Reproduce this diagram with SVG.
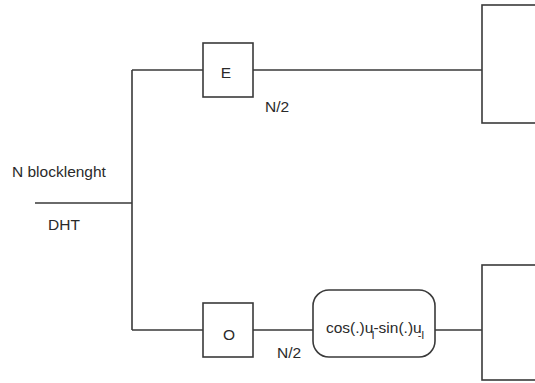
<svg xmlns="http://www.w3.org/2000/svg" width="535" height="383" viewBox="0 0 535 383">
<style>
.ln{fill:none;stroke:#3a3a3a;stroke-width:1.6}
.bx{fill:#fff;stroke:#3a3a3a;stroke-width:1.6}
.t{font-family:"Liberation Sans",Arial,sans-serif;font-size:15.5px;fill:#2a2a2a}
.s{font-size:11px}
</style>
<rect width="535" height="383" fill="#fff"/>
<g id="connectors">
<path class="ln" d="M35 203H132M132 70V330M132 70H203M132 330H203M253 70H482M253 330H313M435 330H482"/>
</g>
<g id="input">
<text class="t" x="12" y="177">N blocklenght</text>
<text class="t" x="48" y="230">DHT</text>
</g>
<g id="E">
<rect class="bx" x="203" y="43" width="50" height="54"/>
<text class="t" x="226" y="78" text-anchor="middle">E</text>
<text class="t" x="265" y="112">N/2</text>
</g>
<g id="O">
<rect class="bx" x="203" y="303" width="50" height="54"/>
<text class="t" x="229" y="340" text-anchor="middle">O</text>
<text class="t" x="277" y="358">N/2</text>
</g>
<g id="rot">
<rect class="bx" x="313" y="290" width="122" height="67" rx="16"/>
<text class="t" x="326" y="333">cos(.)u<tspan class="s" dx="-2" dy="6">I</tspan><tspan dx="-1" dy="-6">-sin(.)u</tspan><tspan class="s" dx="-4" dy="6">-I</tspan></text>
</g>
<g id="outTop">
<rect class="bx" x="482" y="5" width="60" height="118"/>
</g>
<g id="outBottom">
<rect class="bx" x="482" y="265" width="60" height="115"/>
</g>
</svg>
